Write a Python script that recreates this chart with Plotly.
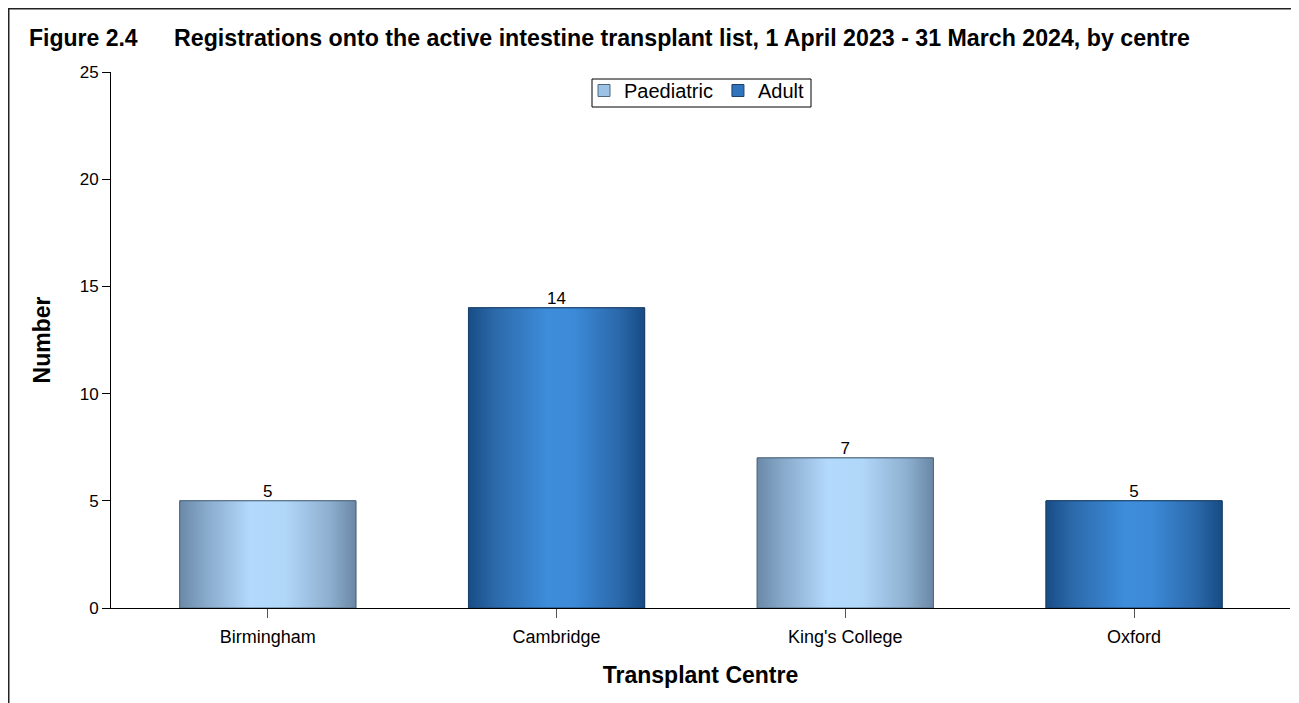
import plotly.graph_objects as go

centres = ["Birmingham", "Cambridge", "King's College", "Oxford"]
groups = ["Paediatric", "Adult", "Paediatric", "Adult"]
registrations = [5, 14, 7, 5]

series_names = ["Paediatric", "Adult"]

# colours for the shaded bars (dark edge -> light middle -> dark edge)
shades = {
    "Paediatric": [[0, "#6b89a8"], [0.15, "#88aacb"], [0.4, "#b3d9fc"],
                   [0.6, "#b0d6f8"], [0.85, "#8eb0d0"], [1, "#6a87a5"]],
    "Adult": [[0, "#184d86"], [0.15, "#2b69aa"], [0.45, "#3e8ddb"],
              [0.6, "#3c8ad8"], [0.85, "#2b69ab"], [1, "#174b84"]],
}
edges = {"Paediatric": "#50697f", "Adult": "#1c406a"}
solid = {"Paediatric": "#9cc2e6", "Adult": "#2f74bd"}

bar_w = 0.61

# page is drawn with an 8px body margin, so the figure is a bit smaller
W, H = 1291, 695
L, R, T, B = 103, 9, 64, 95
pw, ph = W - L - R, H - T - B


def px_x(x):
    return (x - L) / pw


def px_y(y):
    return (H - B - y) / ph


fig = go.Figure()

# plain bars (also give the legend its square swatches)
for s in series_names:
    xs = [i for i, g in enumerate(groups) if g == s]
    fig.add_trace(go.Bar(
        x=xs, y=[registrations[i] for i in xs], width=bar_w,
        name=s, legendgroup=s,
        marker=dict(color=solid[s], line=dict(color=edges[s], width=1)),
        hoverinfo="skip",
    ))

# horizontal shading on top of each bar
for i, (grp, val) in enumerate(zip(groups, registrations)):
    x0, x1 = i - bar_w / 2, i + bar_w / 2
    fig.add_trace(go.Scatter(
        x=[x0, x1, x1, x0, x0],
        y=[0, 0, val, val, 0],
        mode="lines",
        fill="toself",
        fillcolor=solid[grp],
        fillgradient=dict(type="horizontal", colorscale=shades[grp]),
        line=dict(color=edges[grp], width=1),
        legendgroup=grp,
        showlegend=False,
        hoverinfo="skip",
    ))

# value labels above bars
fig.add_trace(go.Scatter(
    x=list(range(len(centres))),
    y=registrations,
    mode="text",
    text=[str(v) for v in registrations],
    textposition="top center",
    textfont=dict(size=17, color="black"),
    showlegend=False,
    hoverinfo="skip",
))

fig.update_layout(
    width=W, height=H,
    barmode="overlay",
    paper_bgcolor="white", plot_bgcolor="white",
    font=dict(family="Liberation Sans, Arial", size=17, color="black"),
    margin=dict(l=L, r=R, t=T, b=B),
    legend=dict(
        orientation="h", x=0.5 - 4 / pw, xanchor="center", y=px_y(63), yanchor="top",
        borderwidth=0, bgcolor="rgba(0,0,0,0)",
        font=dict(size=20), itemwidth=30, traceorder="normal",
    ),
    xaxis=dict(
        range=[-0.543, 3.54], tickvals=list(range(len(centres))), ticktext=centres,
        tickfont=dict(size=18), ticklabelstandoff=3,
        showline=True, linecolor="black", linewidth=1, showgrid=False, zeroline=False,
        ticks="outside", ticklen=9, tickcolor="#555555",
        title=dict(text="<b>Transplant Centre</b>", font=dict(size=23), standoff=21),
    ),
    yaxis=dict(
        range=[0, 25], dtick=5, showline=True, linecolor="black", linewidth=1,
        showgrid=False, zeroline=False, ticks="outside", ticklen=8, tickcolor="black",
        title=dict(text="<b>Number</b>", font=dict(size=23), standoff=22),
    ),
    annotations=[
        dict(text="<b>Figure 2.4</b>", x=px_x(19), y=px_y(30), xref="paper", yref="paper",
             showarrow=False, xanchor="left", yanchor="middle", font=dict(size=23)),
        dict(text="<b>Registrations onto the active intestine transplant list, "
                  "1 April 2023 - 31 March 2024, by centre</b>",
             x=px_x(164), y=px_y(30), xref="paper", yref="paper",
             showarrow=False, xanchor="left", yanchor="middle", font=dict(size=23.2)),
    ],
)

# legend box, drawn tighter than plotly's own border
fig.add_shape(
    type="rect", xref="paper", yref="paper",
    x0=px_x(584), x1=px_x(803), y0=px_y(99), y1=px_y(71),
    line=dict(color="black", width=1), fillcolor="white", layer="below",
)

# outer frame (right and bottom edges lie outside the window)
fig.add_shape(
    type="rect", xref="paper", yref="paper",
    x0=px_x(0.5), x1=px_x(W + 20),
    y0=px_y(H + 20), y1=px_y(0.5),
    line=dict(color="#222222", width=2), fillcolor="rgba(0,0,0,0)", layer="below",
)

fig.write_html("out.html")
